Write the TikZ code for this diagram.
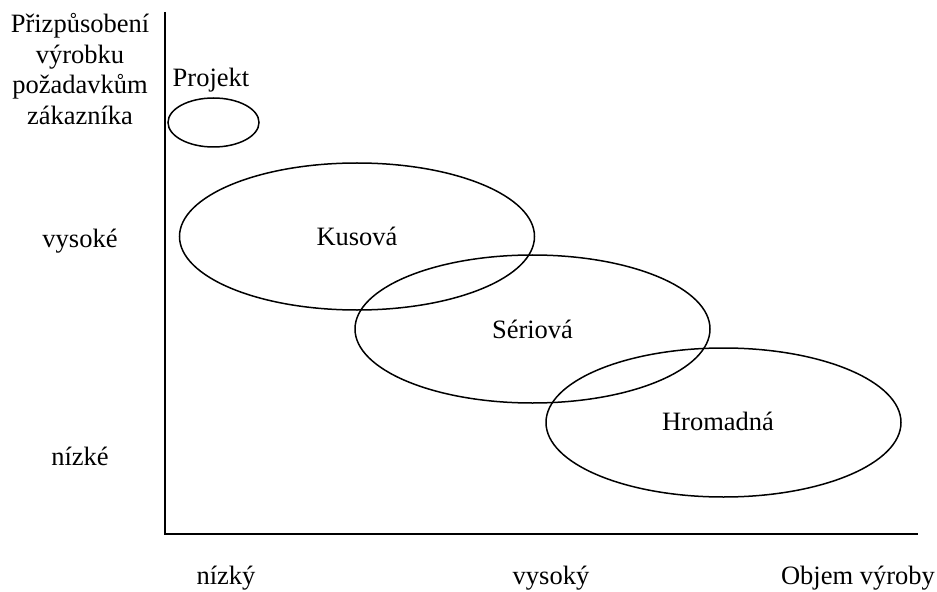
\documentclass[tikz,border=0pt]{standalone}
\usepackage{fontspec}
\setmainfont{Liberation Serif}
\usetikzlibrary{shapes.geometric}
\begin{document}
\begin{tikzpicture}[x=1bp,y=-1bp,
  lbl/.style={inner sep=0pt,anchor=base,font=\fontsize{26.5bp}{30bp}\selectfont},
  axis/.style={line width=1.6bp},
  region/.style={ellipse,draw,line width=1.5bp,inner sep=0pt,
    font=\fontsize{26.5bp}{30bp}\selectfont}]
\useasboundingbox (0,0) rectangle (937,592);

% axes
\coordinate (top) at (165,12);
\coordinate (origin) at (165,534);
\coordinate (right) at (918,534);
\draw[axis] (top) -- (origin) -- (right);

% vertical axis title and levels
\node[lbl] (t1) at (80,33) {Přizpůsobení};
\node[lbl] (t2) at (80,63.5) {výrobku};
\node[lbl] (t3) at (80,94) {požadavkům};
\node[lbl] (t4) at (80,124.5) {zákazníka};
\node[lbl] (yhi) at (80,248) {vysoké};
\node[lbl] (ylo) at (80,465) {nízké};

% horizontal axis levels and title
\node[lbl] (xlo) at (226,584) {nízký};
\node[lbl] (xhi) at (551,584) {vysoký};
\node[lbl] (xt) at (858,584) {Objem výroby};

% production types
\node[lbl] (projlbl) at (211,87) {Projekt};
\node[region,minimum width=91bp,minimum height=49bp] (proj) at (213.5,122.5) {};
\node[region,minimum width=355bp,minimum height=147bp] (kus) at (357,236.5) {Kusová};
\node[region,minimum width=355bp,minimum height=148bp] (ser) at (532.5,329) {Sériová};
\node[region,minimum width=355bp,minimum height=149bp] (hrom) at (723.5,422.5) {};
\node[lbl,anchor=center] (hromlbl) at (718,421) {Hromadná};
\end{tikzpicture}
\end{document}
